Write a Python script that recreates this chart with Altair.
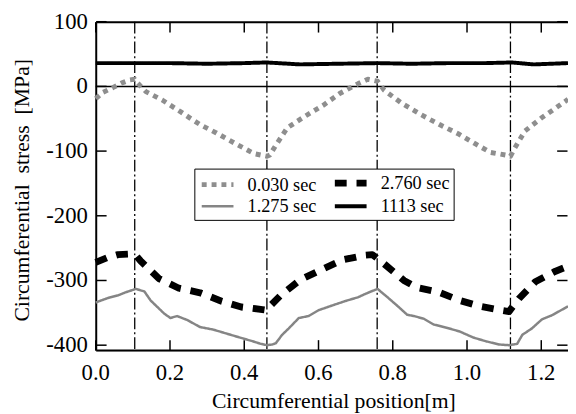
import altair as alt
import pandas as pd

FONT = "Liberation Serif"

# legend order (Vega fills the 2-column legend column by column)
series_names = ["0.030 sec", "1.275 sec", "2.760 sec", "1113 sec"]

x_030 = [0.0, 0.02, 0.046, 0.069, 0.092, 0.105, 0.113, 0.135, 0.179, 0.228, 0.254, 0.281, 0.325, 0.378,
         0.427, 0.461, 0.469, 0.485, 0.516, 0.564, 0.613, 0.657, 0.706, 0.733, 0.759, 0.777, 0.824, 0.877,
         0.926, 0.979, 1.023, 1.063, 1.112, 1.117, 1.129, 1.156, 1.200, 1.240, 1.272]
y_030 = [-19, -9, -2, 5, 10, 11, 5, -8, -21, -39, -49, -59, -72, -89,
         -104, -108, -106, -91, -64, -46, -29, -11, 4, 11, 8, -6, -26, -44,
         -59, -74, -89, -102, -107, -108, -95, -69, -49, -33, -20]

x_2760 = [0.0, 0.03, 0.06, 0.095, 0.108, 0.121, 0.170, 0.224, 0.281, 0.339, 0.392, 0.449, 0.461, 0.467,
          0.498, 0.551, 0.609, 0.666, 0.724, 0.745, 0.772, 0.830, 0.865, 0.923, 0.981, 1.035, 1.091, 1.113,
          1.140, 1.184, 1.237, 1.272]
y_2760 = [-272, -265, -260, -259, -261, -270, -297, -312, -319, -332, -341, -345, -346, -341,
          -323, -299, -283, -268, -261, -260, -272, -300, -311, -318, -331, -340, -346, -348,
          -328, -302, -286, -278]

x_1275 = [0.0, 0.033, 0.06, 0.077, 0.108, 0.131, 0.148, 0.166, 0.184, 0.201, 0.219, 0.246, 0.281, 0.317,
          0.352, 0.387, 0.423, 0.445, 0.461, 0.475, 0.485, 0.502, 0.520, 0.547, 0.573, 0.600, 0.635, 0.671,
          0.706, 0.733, 0.759, 0.786, 0.812, 0.839, 0.857, 0.883, 0.910, 0.945, 0.981, 1.016, 1.051, 1.087,
          1.113, 1.135, 1.149, 1.175, 1.202, 1.228, 1.272]
y_1275 = [-334, -327, -323, -319, -313, -317, -331, -341, -351, -358, -355, -361, -372, -376,
          -382, -388, -394, -398, -400, -399, -397, -384, -374, -358, -355, -346, -339, -332,
          -326, -319, -313, -326, -339, -353, -355, -359, -368, -373, -379, -388, -394, -399,
          -400, -398, -384, -374, -360, -354, -340]

x_1113 = [0.0, 0.1, 0.2, 0.3, 0.4, 0.46, 0.55, 0.65, 0.76, 0.85, 0.95, 1.05, 1.12, 1.18, 1.272]
y_1113 = [36, 36, 36, 35, 36, 37, 34, 35, 36, 35, 36, 36, 37, 34, 36]

vlines = [0.105, 0.461, 0.758, 1.117]
x_ticks = [0.0, 0.2, 0.4, 0.6, 0.8, 1.0, 1.2]
x_labels = ["0.0", "0.2", "0.4", "0.6", "0.8", "1.0", "1.2"]
y_ticks = [100, 0, -100, -200, -300, -400]
y_labels = ["100", "0", "-100", "-200", "-300", "-400"]
x_title = "Circumferential position[m]"
y_title = "Circumferential\u00a0 stress\u00a0 [MPa]"
x_min, x_max = 0.0, 1.272
y_min, y_max = -409, 100
zero_line = [0]

colors = ["#8e8e8e", "#858585", "#000000", "#000000"]
dashes = [[5, 5], [1, 0], [12, 10], [1, 0]]
widths = [5, 2.5, 7, 4]

W, H, TK = 479, 334, 11

rows = []
for name, xs, ys in [("0.030 sec", x_030, y_030), ("2.760 sec", x_2760, y_2760),
                     ("1.275 sec", x_1275, y_1275), ("1113 sec", x_1113, y_1113)]:
    for i, (xv, yv) in enumerate(zip(xs, ys)):
        rows.append({"series": name, "pos": xv, "stress": yv, "order": i})
df = pd.DataFrame(rows)
df_v = pd.DataFrame({"vx": vlines})
df_z = pd.DataFrame({"zy": zero_line})
df_xt = pd.DataFrame({"tx": x_ticks})
df_yt = pd.DataFrame({"ty": y_ticks})
df_xl = pd.DataFrame({"lx": x_ticks, "label": x_labels})
df_yl = pd.DataFrame({"ly": y_ticks, "label": y_labels})
df_one = pd.DataFrame({"k": [1]})
df_xtitle = pd.DataFrame({"t": [x_title]})
df_ytitle = pd.DataFrame({"t": [y_title]})

xscale = alt.Scale(domain=[x_min, x_max], nice=False, zero=False)
yscale = alt.Scale(domain=[y_min, y_max], nice=False, zero=False)


def X(f):
    return alt.X(f + ":Q", scale=xscale, axis=None)


def Y(f):
    return alt.Y(f + ":Q", scale=yscale, axis=None)


legend = alt.Legend(title=None, orient="none", legendX=100, legendY=149, columns=2,
                    symbolType="M-1,0L3.6,0", symbolSize=196, labelFont=FONT, labelFontSize=18.5,
                    labelColor="black", strokeColor="black", fillColor="white", padding=4,
                    rowPadding=0, columnPadding=4, labelOffset=29)

tick_style = dict(color="black", strokeWidth=1.5)
xt_bottom = alt.Chart(df_xt).mark_rule(**tick_style).encode(
    x=X("tx"), y=alt.value(H - 0.5), y2=alt.value(H - TK))
xt_top = alt.Chart(df_xt).mark_rule(**tick_style).encode(
    x=X("tx"), y=alt.value(0.5), y2=alt.value(TK))
yt_left = alt.Chart(df_yt).mark_rule(**tick_style).encode(
    y=Y("ty"), x=alt.value(0.5), x2=alt.value(TK))
yt_right = alt.Chart(df_yt).mark_rule(**tick_style).encode(
    y=Y("ty"), x=alt.value(W - 0.5), x2=alt.value(W - TK))

frame_style = dict(color="black", strokeWidth=2)
frame_left = alt.Chart(df_one).mark_rule(**frame_style).encode(
    x=alt.value(0.5), y=alt.value(0.5), y2=alt.value(H - 0.5))
frame_top = alt.Chart(df_one).mark_rule(**frame_style).encode(
    y=alt.value(0.5), x=alt.value(0.5), x2=alt.value(W))
frame_bottom = alt.Chart(df_one).mark_rule(**frame_style).encode(
    y=alt.value(H - 0.5), x=alt.value(0.5), x2=alt.value(W))

xlab = alt.Chart(df_xl).mark_text(font=FONT, fontSize=23, baseline="top", align="center",
                                  color="black").encode(x=X("lx"), y=alt.value(H + 11), text="label:N")
ylab = alt.Chart(df_yl).mark_text(font=FONT, fontSize=23, baseline="middle", align="right",
                                  color="black").encode(y=Y("ly"), x=alt.value(-8), text="label:N")
xtit = alt.Chart(df_xtitle).mark_text(font=FONT, fontSize=22, baseline="alphabetic", align="center",
                                      color="black").encode(x=alt.value(W / 2 + 2), y=alt.value(H + 58), text="t:N")
ytit = alt.Chart(df_ytitle).mark_text(font=FONT, fontSize=22, baseline="middle", align="center", angle=270,
                                      color="black").encode(x=alt.value(-75), y=alt.value(171), text="t:N")

zero = alt.Chart(df_z).mark_rule(color="black", strokeWidth=1.5).encode(y=Y("zy"))
vrules = alt.Chart(df_v).mark_rule(color="black", strokeWidth=1.3, strokeDash=[12, 3, 2, 3]).encode(x=X("vx"))
lines = alt.Chart(df).mark_line(strokeJoin="round").encode(
    x=X("pos"),
    y=Y("stress"),
    color=alt.Color("series:N", scale=alt.Scale(domain=series_names, range=colors), legend=legend),
    strokeDash=alt.StrokeDash("series:N", scale=alt.Scale(domain=series_names, range=dashes), legend=legend),
    strokeWidth=alt.StrokeWidth("series:N", scale=alt.Scale(type="ordinal", domain=series_names, range=widths), legend=legend),
    order="order:Q",
)

chart = alt.layer(zero, vrules, xt_bottom, xt_top, yt_left, yt_right, frame_left, frame_top, frame_bottom,
                  lines, xlab, ylab, xtit, ytit).properties(
    width=W, height=H,
    autosize=alt.AutoSizeParams(type="none"),
    padding={"left": 89, "top": 11, "right": 0, "bottom": 61},
).configure(font=FONT)

chart.save("out.html", embed_options={"renderer": "svg", "actions": False})
